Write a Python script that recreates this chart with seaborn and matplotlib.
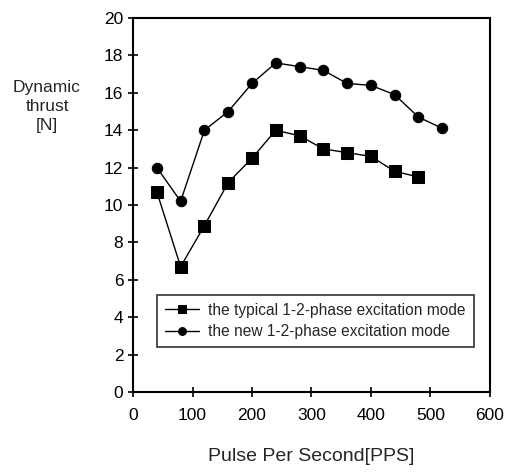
import pandas as pd
import matplotlib
matplotlib.use("Agg")
import matplotlib.pyplot as plt
import seaborn as sns

# data
pps_typical = [40, 80, 120, 160, 200, 240, 280, 320, 360, 400, 440, 480]
thrust_typical = [10.7, 6.7, 8.9, 11.2, 12.5, 14.0, 13.7, 13.0, 12.8, 12.6, 11.8, 11.5]
pps_new = [40, 80, 120, 160, 200, 240, 280, 320, 360, 400, 440, 480, 520]
thrust_new = [12.0, 10.2, 14.0, 15.0, 16.5, 17.6, 17.4, 17.2, 16.5, 16.4, 15.9, 14.7, 14.1]
label_typical = "the typical 1-2-phase excitation mode"
label_new = "the new 1-2-phase excitation mode"

sns.set_style("ticks")
plt.rcParams["font.family"] = ["Liberation Sans", "DejaVu Sans"]

df_typ = pd.DataFrame({"pps": pps_typical, "thrust": thrust_typical})
df_new = pd.DataFrame({"pps": pps_new, "thrust": thrust_new})

fig = plt.figure(figsize=(5.06, 4.74), dpi=100)
ax = fig.add_axes([0.263, 0.173, 0.705, 0.789])

sns.lineplot(data=df_typ, x="pps", y="thrust", ax=ax, color="black", lw=1,
             marker="s", markersize=8.5, markeredgecolor="black", label=label_typical)
sns.lineplot(data=df_new, x="pps", y="thrust", ax=ax, color="black", lw=1,
             marker="o", markersize=7.5, markeredgecolor="black", label=label_new)

ax.set_xlim(0, 600)
ax.set_ylim(0, 20)
ax.set_xticks(range(0, 601, 100))
ax.set_yticks(range(0, 21, 2))
for s in ax.spines.values():
    s.set_visible(True)
    s.set_linewidth(1.5)
    s.set_color("black")
ax.tick_params(direction="inout", length=7, width=1.2, labelsize=12.5, colors="black")
ax.tick_params(axis="x", pad=8)

ax.set_xlabel("Pulse Per Second[PPS]", fontsize=14, labelpad=18)
ax.set_ylabel("")
fig.text(0.093, 0.775, "Dynamic\nthrust\n[N]", ha="center", va="center", fontsize=12.5,
         linespacing=1.35)

leg = ax.legend(loc="lower left", bbox_to_anchor=(0.045, 0.1), fontsize=11.2,
                frameon=True, fancybox=False, edgecolor="black", handlelength=2.2,
                markerscale=0.75, borderpad=0.5, labelspacing=0.4, handletextpad=0.6)
leg.get_frame().set_linewidth(1.2)

fig.savefig("out.png", dpi=100)
